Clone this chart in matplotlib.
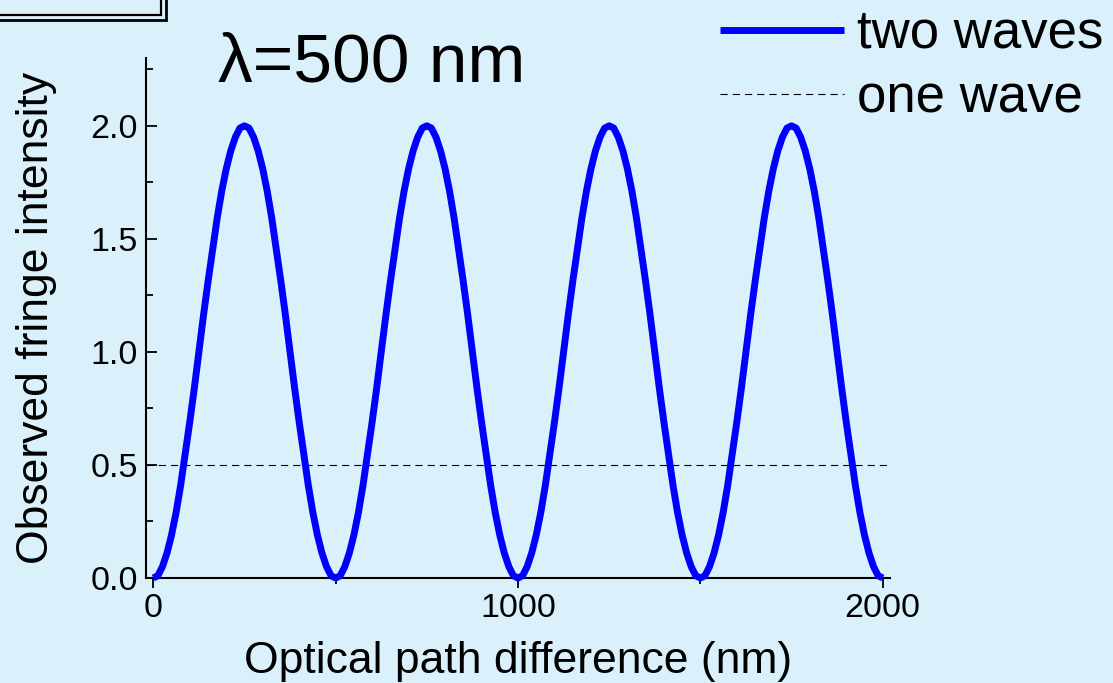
import numpy as np
import matplotlib
matplotlib.use("Agg")
import matplotlib.pyplot as plt
from matplotlib.ticker import MultipleLocator, FormatStrFormatter
from matplotlib.patches import Rectangle

# ---- data ----
opd_nm = np.arange(0, 2000.1, 12.5)  # optical path difference samples (nm)
two_waves = [
    0.00, 0.01, 0.05, 0.11, 0.19, 0.29, 0.41, 0.55, 0.69, 0.84,
    1.00, 1.16, 1.31, 1.45, 1.59, 1.71, 1.81, 1.89, 1.95, 1.99,
    2.00, 1.99, 1.95, 1.89, 1.81, 1.71, 1.59, 1.45, 1.31, 1.16,
    1.00, 0.84, 0.69, 0.55, 0.41, 0.29, 0.19, 0.11, 0.05, 0.01,
    0.00, 0.01, 0.05, 0.11, 0.19, 0.29, 0.41, 0.55, 0.69, 0.84,
    1.00, 1.16, 1.31, 1.45, 1.59, 1.71, 1.81, 1.89, 1.95, 1.99,
    2.00, 1.99, 1.95, 1.89, 1.81, 1.71, 1.59, 1.45, 1.31, 1.16,
    1.00, 0.84, 0.69, 0.55, 0.41, 0.29, 0.19, 0.11, 0.05, 0.01,
    0.00, 0.01, 0.05, 0.11, 0.19, 0.29, 0.41, 0.55, 0.69, 0.84,
    1.00, 1.16, 1.31, 1.45, 1.59, 1.71, 1.81, 1.89, 1.95, 1.99,
    2.00, 1.99, 1.95, 1.89, 1.81, 1.71, 1.59, 1.45, 1.31, 1.16,
    1.00, 0.84, 0.69, 0.55, 0.41, 0.29, 0.19, 0.11, 0.05, 0.01,
    0.00, 0.01, 0.05, 0.11, 0.19, 0.29, 0.41, 0.55, 0.69, 0.84,
    1.00, 1.16, 1.31, 1.45, 1.59, 1.71, 1.81, 1.89, 1.95, 1.99,
    2.00, 1.99, 1.95, 1.89, 1.81, 1.71, 1.59, 1.45, 1.31, 1.16,
    1.00, 0.84, 0.69, 0.55, 0.41, 0.29, 0.19, 0.11, 0.05, 0.01,
    0.00,
]
one_wave_level = 0.5
series_labels = ["two waves", "one wave"]
title_text = "λ=500 nm"
xlabel_text = "Optical path difference (nm)"
ylabel_text = "Observed fringe intensity"

BG = "#daf1fc"
W, H = 1113, 683
plt.rcParams["font.family"] = ["Liberation Sans", "DejaVu Sans"]

fig = plt.figure(figsize=(W / 100, H / 100), dpi=100, facecolor=BG)
ax = fig.add_axes([146 / W, 1 - 578 / H, (890 - 146) / W, (578 - 58) / H])
ax.set_facecolor(BG)

l1, = ax.plot(opd_nm, two_waves, color="#0000ff", lw=5.0, solid_capstyle="butt",
              solid_joinstyle="round", label=series_labels[0], clip_on=False, zorder=3)
l2 = ax.axhline(one_wave_level, color="black", lw=0.8, dashes=(6.5, 4.5),
                label=series_labels[1], zorder=2)

ax.set_xlim(-20, 2020)
ax.set_ylim(0, 2.30)

for s in ["top", "right"]:
    ax.spines[s].set_visible(False)
for s in ["left", "bottom"]:
    ax.spines[s].set_linewidth(1.5)

ax.xaxis.set_major_locator(MultipleLocator(1000))
ax.xaxis.set_minor_locator(MultipleLocator(500))
ax.yaxis.set_major_locator(MultipleLocator(0.5))
ax.yaxis.set_minor_locator(MultipleLocator(0.25))
ax.yaxis.set_major_formatter(FormatStrFormatter("%.1f"))

ax.tick_params(axis="x", which="major", direction="out", length=7, width=1.3,
               labelsize=24.5, pad=4)
ax.tick_params(axis="x", which="minor", direction="out", length=4.5, width=1.3)
ax.tick_params(axis="y", which="major", direction="in", length=8, width=1.3,
               labelsize=24.5, pad=6)
ax.tick_params(axis="y", which="minor", direction="in", length=5, width=1.3)

ax.set_xlabel(xlabel_text, fontsize=32, labelpad=12)
ax.set_ylabel(ylabel_text, fontsize=32, labelpad=24)

fig.text(218 / W, 1 - 82 / H, title_text, fontsize=50, ha="left", va="baseline")

fig.legend(handles=[l1, l2], loc="upper left",
           bbox_to_anchor=(720 / W, 1 - 9 / H), bbox_transform=fig.transFigure,
           frameon=False, fontsize=38, handlelength=2.35, handletextpad=0.25,
           labelspacing=0.27, borderpad=0, borderaxespad=0)

# framed box corner at the top-left
fig.add_artist(Rectangle((-10 / W, 1 - 14.5 / H), (161 + 10) / W, (14.5 + 10) / H,
                         transform=fig.transFigure, fill=False, lw=1.6, ec="black"))
fig.add_artist(Rectangle((-10 / W, 1 - 19.5 / H), (165.5 + 10) / W, (19.5 + 10) / H,
                         transform=fig.transFigure, fill=False, lw=2.0, ec="black"))

fig.savefig("out.png", dpi=100, facecolor=BG)
